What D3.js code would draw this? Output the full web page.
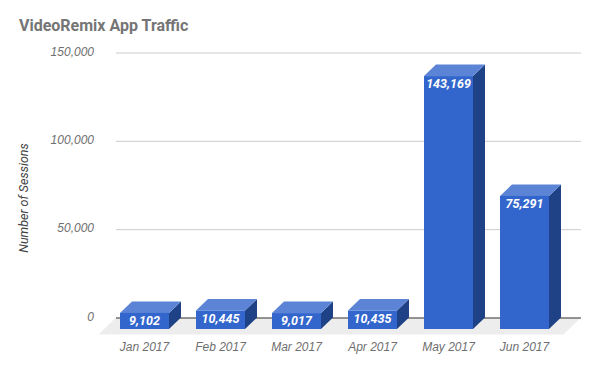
<!DOCTYPE html>
<html>
<head>
<meta charset="utf-8">
<script src="https://cdn.jsdelivr.net/npm/d3@7/dist/d3.min.js"></script>
<style>
    html, body { margin: 0; padding: 0; background: #fff; }
    svg { display: block; font-family: Roboto, sans-serif; }
    .axis text { fill: #6f6f6f; font-size: 12px; font-style: italic; font-weight: 500; }
    .axis .domain { display: none; }
</style>
</head>
<body>
<svg id="chart" width="600" height="371"></svg>
<script>
const months = ["Jan 2017", "Feb 2017", "Mar 2017", "Apr 2017", "May 2017", "Jun 2017"];
const sessions = [9102, 10445, 9017, 10435, 143169, 75291];
const yTicks = [0, 50000, 100000, 150000];

const svg = d3.select("#chart");

// Back wall sits up and to the right of the front of the bars
const depth = {x: 12, y: 11.5};
const wall = {left: 116, right: 581, bottom: 317.5, top: 52.5};

const x = d3.scaleBand()
    .domain(months)
    .range([120, 549])
    .paddingInner(27 / 76)
    .paddingOuter(0);
const y = d3.scaleLinear()
    .domain([0, 150000])
    .range([wall.bottom, wall.top]);

// Floor
const floorFront = wall.bottom + depth.y + 5.5;
const floorLine = d3.line();
svg.append("path")
    .attr("fill", "#ededed")
    .attr("d", floorLine([
        [wall.left, wall.bottom],
        [wall.right, wall.bottom],
        [wall.right - 17.5, floorFront],
        [wall.left - 17.5, floorFront]
    ]) + "Z");

// Y axis and gridlines
const yAxis = svg.append("g")
    .attr("class", "axis")
    .attr("transform", `translate(${wall.left}, 0)`)
    .call(d3.axisLeft(y)
        .tickValues(yTicks)
        .tickFormat(d3.format(","))
        .tickSize(-(wall.right - wall.left))
        .tickPadding(22));
yAxis.selectAll("line")
    .attr("stroke", (d) => d === 0 ? "#333333" : "#cccccc")
    .attr("stroke-width", 1);
yAxis.selectAll("text").attr("dy", "0.22em");

// X axis labels
const xAxis = svg.append("g")
    .attr("class", "axis")
    .attr("transform", `translate(0, ${floorFront})`)
    .call(d3.axisBottom(x).tickSize(0).tickPadding(8));

// Bars
const bars = svg.selectAll(".bar")
    .data(months.map((m, i) => ({month: m, value: sessions[i]})))
    .enter()
    .append("g")
    .attr("class", "bar");

const front = (d) => ({
    x0: x(d.month),
    x1: x(d.month) + x.bandwidth(),
    top: y(d.value) + depth.y,
    bottom: y(0) + depth.y
});

// Right side
bars.append("path")
    .attr("fill", "#1f4287")
    .attr("d", (d) => {
        const f = front(d);
        return floorLine([
            [f.x1, f.top],
            [f.x1 + depth.x, f.top - depth.y],
            [f.x1 + depth.x, f.bottom - depth.y],
            [f.x1, f.bottom]
        ]) + "Z";
    });

// Top
bars.append("path")
    .attr("fill", "#5b84d6")
    .attr("d", (d) => {
        const f = front(d);
        return floorLine([
            [f.x0, f.top],
            [f.x0 + depth.x, f.top - depth.y],
            [f.x1 + depth.x, f.top - depth.y],
            [f.x1, f.top]
        ]) + "Z";
    });

// Front
bars.append("rect")
    .attr("fill", "#3366cc")
    .attr("x", (d) => front(d).x0)
    .attr("y", (d) => front(d).top)
    .attr("width", x.bandwidth())
    .attr("height", (d) => front(d).bottom - front(d).top);

// Value labels
bars.append("text")
    .text((d) => d3.format(",")(d.value))
    .attr("x", (d) => front(d).x0 + x.bandwidth() / 2)
    .attr("y", (d) => front(d).top + 12)
    .attr("text-anchor", "middle")
    .attr("fill", "#ffffff")
    .style("font-size", "12.5px")
    .style("font-style", "italic")
    .style("font-weight", "700");

// Titles
svg.append("text")
    .text("VideoRemix App Traffic")
    .attr("x", 19)
    .attr("y", 31)
    .attr("fill", "#757575")
    .style("font-size", "16px")
    .style("font-weight", "700");

svg.append("text")
    .text("Number of Sessions")
    .attr("transform", "translate(28, 198) rotate(-90)")
    .attr("text-anchor", "middle")
    .attr("fill", "#424242")
    .style("font-size", "12.5px")
    .style("font-style", "italic")
    .style("font-weight", "400");
</script>
</body>
</html>
